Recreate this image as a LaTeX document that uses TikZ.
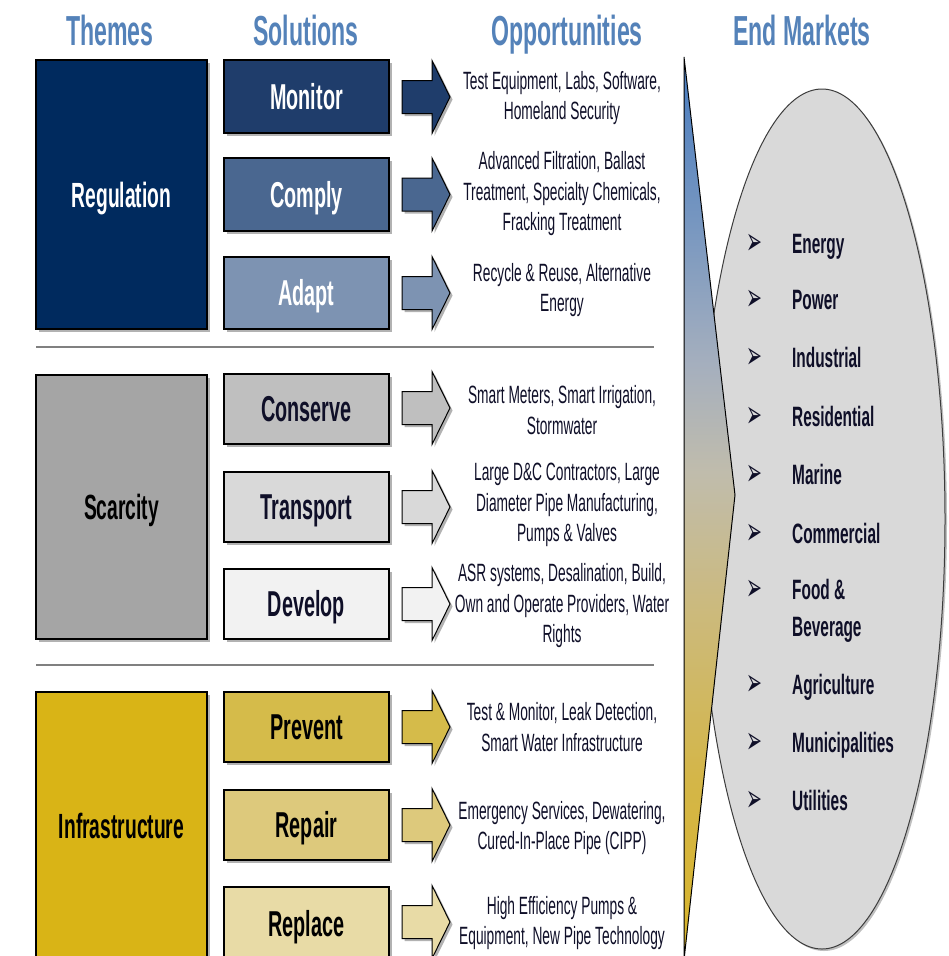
\documentclass[tikz,border=0pt]{standalone}
\usepackage{fontspec}
\setmainfont{Liberation Sans}
\newfontfamily\nf[FakeStretch=0.55]{Liberation Sans}
\newfontfamily\bulf[FakeStretch=0.5]{DejaVu Sans}
\usetikzlibrary{shadows}
\definecolor{hdr}{RGB}{84,130,185}
\definecolor{regc}{RGB}{0,42,94}
\definecolor{monc}{RGB}{31,61,107}
\definecolor{comc}{RGB}{74,103,144}
\definecolor{adac}{RGB}{125,147,178}
\definecolor{scac}{RGB}{165,165,165}
\definecolor{conc}{RGB}{191,191,191}
\definecolor{trac}{RGB}{217,217,217}
\definecolor{devc}{RGB}{242,242,242}
\definecolor{infc}{RGB}{217,180,22}
\definecolor{prec}{RGB}{213,187,74}
\definecolor{repc}{RGB}{221,201,124}
\definecolor{rplc}{RGB}{232,219,166}
\definecolor{txtc}{RGB}{15,15,40}
\definecolor{ellc}{RGB}{217,217,217}
\definecolor{wA}{RGB}{72,124,192}
\definecolor{wB}{RGB}{118,150,192}
\definecolor{wC}{RGB}{165,175,190}
\definecolor{wD}{RGB}{192,188,172}
\definecolor{wE}{RGB}{203,186,128}
\definecolor{wF}{RGB}{212,182,72}
\definecolor{wG}{RGB}{216,180,40}
\pgfdeclareverticalshading{wedgeshade}{100bp}{color(0bp)=(wG); color(25bp)=(wG); color(35bp)=(wF); color(45bp)=(wE); color(52bp)=(wD); color(58bp)=(wC); color(66bp)=(wB); color(75bp)=(wA); color(100bp)=(wA)}
\newcommand\blockarr[3]{%
  \draw[arrowst, fill=#2] (402,#1-16.5) coordinate (#3a) -- (432,#1-16.5) -- (432,#1-36.5) -- (450,#1) coordinate (#3tip) -- (432,#1+36.5) -- (432,#1+16.5) -- (402,#1+16.5) -- cycle;}
\begin{document}
\begin{tikzpicture}[x=1pt,y=-1pt,
  shad/.style={drop shadow={shadow xshift=2.5pt,shadow yshift=-2.5pt,opacity=.3,fill=black}},
  themebox/.style={draw=black, line width=1.2pt, minimum width=171pt, inner sep=0pt, shad,
    font=\nf\bfseries\fontsize{35}{40}\selectfont, text height=25pt, text depth=0pt},
  solbox/.style={draw=black, line width=1.2pt, minimum width=165pt, inner sep=0pt, shad,
    font=\nf\bfseries\fontsize{36}{40}\selectfont, text height=25.8pt, text depth=0pt},
  arrowst/.style={draw=black, line width=1pt, shad},
  header/.style={anchor=base, text=hdr, font=\nf\bfseries\fontsize{42}{46}\selectfont},
  opp/.style={align=center, text=txtc, inner sep=0pt, font=\nf\fontsize{25}{30.5}\selectfont},
  mkt/.style={anchor=base west, text=txtc, inner sep=0pt, font=\nf\bfseries\fontsize{28}{34}\selectfont},
  bul/.style={text=txtc, inner sep=0pt, font=\bulf\fontsize{38}{40}\selectfont},
  sep/.style={draw={rgb,255:red,128;green,128;blue,128}, line width=2pt}
]
\useasboundingbox (0,0) rectangle (948,956);
\clip (0,0) rectangle (948,956);
\fill[white] (0,0) rectangle (948,956);

% headers
\node[header] (hthemes) at (110,45) {Themes};
\node[header] (hsol) at (306,45) {Solutions};
\node[header] (hopp) at (567,45) {Opportunities};
\node[header] (hend) at (802,45) {End Markets};

% end markets ellipse and gradient wedge
\draw[fill=ellc, draw={rgb,255:red,60;green,60;blue,60}, line width=1pt,
  drop shadow={shadow xshift=2pt,shadow yshift=-2pt,opacity=.25,fill=black}]
  (822,519) ellipse [x radius=123, y radius=430];
\coordinate (wtop) at (684,57);
\coordinate (wtip) at (735,495);
\coordinate (wbot) at (684,960);
\draw[line width=1pt, draw=black, shading=wedgeshade]
  (wtop) -- (wtip) -- (wbot) -- cycle;

% separators
\coordinate (s1a) at (36,347); \coordinate (s1b) at (654,347);
\coordinate (s2a) at (36,665); \coordinate (s2b) at (654,665);
\draw[sep] (s1a) -- (s1b);
\draw[sep] (s2a) -- (s2b);

% Regulation
\node[themebox, fill=regc, text=white, minimum height=269pt] (reg) at (121.5,194.5) {Regulation};
\node[solbox, fill=monc, text=white, minimum height=73pt] (mon) at (306.5,96.5) {Monitor};
\node[solbox, fill=comc, text=white, minimum height=73pt] (com) at (306.5,194.5) {Comply};
\node[solbox, fill=adac, text=white, minimum height=72pt] (ada) at (306.5,293) {Adapt};

% Scarcity
\node[themebox, fill=scac, text=black, minimum height=264pt] (sca) at (121.5,507) {Scarcity};
\node[solbox, fill=conc, text=txtc, minimum height=70pt] (con) at (306.5,409) {Conserve};
\node[solbox, fill=trac, text=txtc, minimum height=70pt] (tra) at (306.5,507) {Transport};
\node[solbox, fill=devc, text=txtc, minimum height=70pt] (dev) at (306.5,604) {Develop};

% Infrastructure
\node[themebox, fill=infc, text=black, minimum height=268pt] (inf) at (121.5,826) {Infrastructure};
\node[solbox, fill=prec, text=black, minimum height=70pt] (pre) at (306.5,727) {Prevent};
\node[solbox, fill=repc, text=black, minimum height=70pt] (rep) at (306.5,825) {Repair};
\node[solbox, fill=rplc, text=black, minimum height=73pt] (rpl) at (306.5,923.5) {Replace};

% block arrows
\blockarr{97}{monc}{am}
\blockarr{194.5}{comc}{ac}
\blockarr{293}{adac}{aa}
\blockarr{408}{conc}{acn}
\blockarr{507}{trac}{atr}
\blockarr{604}{devc}{adv}
\blockarr{727}{prec}{apr}
\blockarr{825}{repc}{arp}
\blockarr{922}{rplc}{arl}

% opportunities
\node[opp] (o1) at (562,98) {Test Equipment, Labs, Software,\\Homeland Security};
\node[opp] (o2) at (562,194) {Advanced Filtration, Ballast\\Treatment, Specialty Chemicals,\\Fracking Treatment};
\node[opp] (o3) at (562,290) {Recycle \& Reuse, Alternative\\Energy};
\node[opp] (o4) at (562,410) {Smart Meters, Smart Irrigation,\\Stormwater};
\node[opp] (o5) at (567,505) {Large D\&C Contractors, Large\\Diameter Pipe Manufacturing,\\Pumps \& Valves};
\node[opp] (o6) at (562,606) {ASR systems, Desalination, Build,\\Own and Operate Providers, Water\\Rights};
\node[opp] (o7) at (562,727) {Test \& Monitor, Leak Detection,\\Smart Water Infrastructure};
\node[opp] (o8) at (562,828) {Emergency Services, Dewatering,\\Cured-In-Place Pipe (CIPP)};
\node[opp] (o9) at (562,923) {High Efficiency Pumps \&\\Equipment, New Pipe Technology};

% end markets list
\foreach \n/\yy/\t in {m1/253/Energy, m2/309/Power, m3/367/Industrial, m4/426/Residential,
  m5/484/Marine, m6/543/Commercial, m7/599/Food \&, m9/694/Agriculture,
  m10/752/Municipalities, m11/810/Utilities}{
  \node[bul] (b\n) at (754,\yy-9) {➢};
  \node[mkt] (\n) at (792,\yy) {\t};
}
\node[mkt] (m8) at (792,636) {Beverage};
\end{tikzpicture}
\end{document}
